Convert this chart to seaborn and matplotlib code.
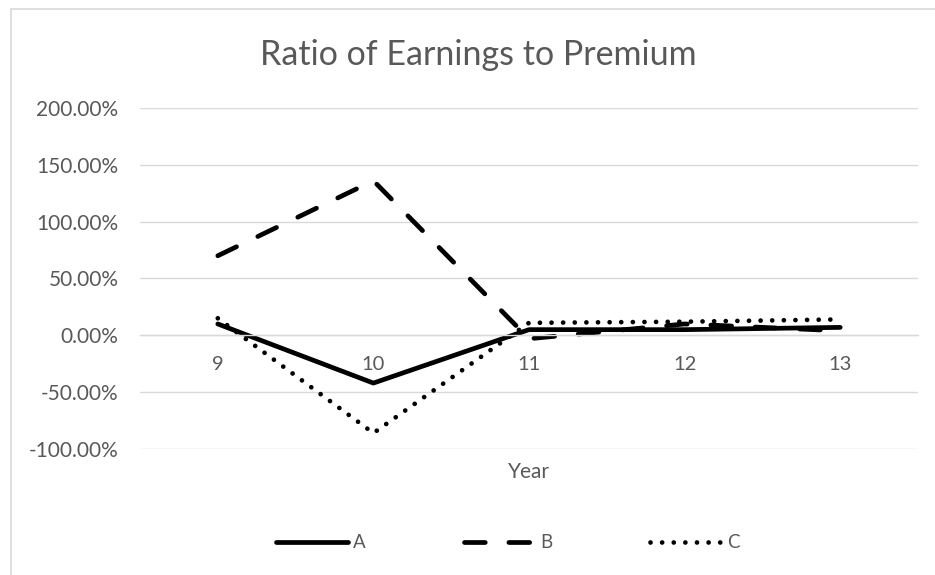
import matplotlib
matplotlib.use("Agg")
import matplotlib.pyplot as plt
import matplotlib.lines as mlines
import seaborn as sns
import pandas as pd
from matplotlib.ticker import FuncFormatter

years = [9, 10, 11, 12, 13]
series_a = [10, -42, 5, 5, 7]
series_b = [70, 136, -3, 10, 4]
series_c = [15, -86, 11, 12, 14]
series_names = ["A", "B", "C"]
y_ticks = [-100, -50, 0, 50, 100, 150, 200]

df = pd.DataFrame({
    "Year": years * 3,
    "value": series_a + series_b + series_c,
    "series": [n for n in series_names for _ in years],
})

sns.set_theme(style="white")
plt.rcParams["font.family"] = ["Lato", "DejaVu Sans"]

W, H = 935, 575
fig = plt.figure(figsize=(W / 100, H / 100), dpi=100)
ax = fig.add_axes([140 / W, 1 - 449 / H, (918 - 140) / W, (449 - 108) / H])

lw = 3.4
dashes = {"A": "", "B": (4.4, 5.0), "C": (0.01, 2.45)}
sns.lineplot(data=df, x="Year", y="value", hue="series", style="series",
             palette={"A": "black", "B": "black", "C": "black"},
             dashes=dashes, linewidth=lw, ax=ax, legend=False,
             dash_capstyle="round", solid_capstyle="round")

grid_c = "#d9d9d9"
text_c = "#595959"
ax.set_xlim(8.5, 13.5)
ax.set_ylim(-100, 200)
ax.set_yticks(y_ticks)
ax.yaxis.set_major_formatter(FuncFormatter(lambda v, p: f"{v:.2f}%"))
ax.set_xticks(years)
ax.set_xticklabels([str(y) for y in years])
ax.grid(axis="y", color=grid_c, linewidth=1)
ax.set_axisbelow(True)
for s in ["left", "right", "top"]:
    ax.spines[s].set_visible(False)
ax.spines["bottom"].set_position(("data", 0))
ax.spines["bottom"].set_color(grid_c)
ax.spines["bottom"].set_linewidth(1)
ax.tick_params(axis="y", length=0, labelsize=15, labelcolor=text_c, pad=15.5)
ax.tick_params(axis="x", length=0, labelsize=14.5, labelcolor=text_c, pad=15)
ax.set_xlabel("")
ax.set_ylabel("")

fig.text(478 / W, 1 - 55 / H, "Ratio of Earnings to Premium", ha="center", va="center",
         fontsize=24.5, color=text_c)
fig.text(529 / W, 1 - 472 / H, "Year", ha="center", va="center", fontsize=15, color=text_c)

handles = []
for n in series_names:
    if dashes[n] == "":
        h = mlines.Line2D([], [], color="black", lw=lw, solid_capstyle="round")
    else:
        h = mlines.Line2D([], [], color="black", lw=lw, dashes=dashes[n], dash_capstyle="round")
    handles.append(h)
leg = fig.legend(handles, series_names, loc="center", bbox_to_anchor=(508 / W, 1 - 543 / H),
                 ncol=3, frameon=False, handlelength=3.8, columnspacing=5.2,
                 handletextpad=0.3, fontsize=13.5)
for t in leg.get_texts():
    t.set_color(text_c)

border_c = "#d9d9d9"
fig.add_artist(mlines.Line2D([10.5 / W, 1], [1 - 8.5 / H, 1 - 8.5 / H], color=border_c, lw=1.2,
                             transform=fig.transFigure))
fig.add_artist(mlines.Line2D([10.5 / W, 10.5 / W], [0, 1 - 8.5 / H], color=border_c, lw=1.2,
                             transform=fig.transFigure))

fig.savefig("out.png", dpi=100, facecolor="white")
